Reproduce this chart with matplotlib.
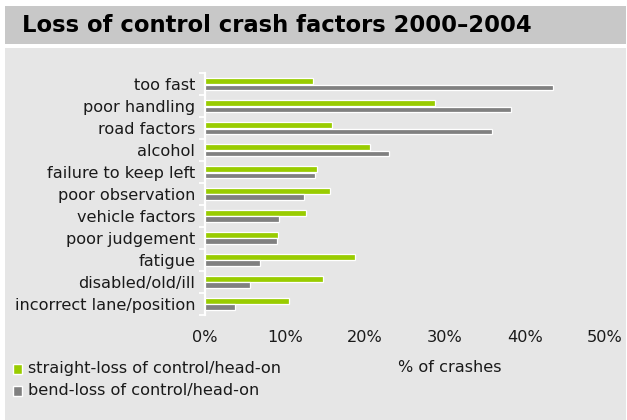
import matplotlib
matplotlib.use("Agg")
import matplotlib.pyplot as plt
from matplotlib.patches import Rectangle
import numpy as np

categories = ["too fast", "poor handling", "road factors", "alcohol",
              "failure to keep left", "poor observation", "vehicle factors",
              "poor judgement", "fatigue", "disabled/old/ill",
              "incorrect lane/position"]
straight = [13.5, 28.8, 15.9, 20.6, 14.0, 15.6, 12.6, 9.1, 18.7, 14.8, 10.5]
bend = [43.5, 38.3, 35.9, 23.0, 13.7, 12.4, 9.2, 9.0, 6.9, 5.6, 3.8]
xticks = [0, 10, 20, 30, 40, 50]
xticklabels = ["0%", "10%", "20%", "30%", "40%", "50%"]
series_names = ["straight-loss of control/head-on", "bend-loss of control/head-on"]
title = "Loss of control crash factors 2000\u20132004"
xlabel = "% of crashes"

GREEN = "#99cc00"
GRAY = "#808080"
PANEL = "#e6e6e6"
BAND = "#c8c8c8"
TXT = "#1a1a1a"
FS = 11.6

plt.rcParams['font.family'] = ['DejaVu Sans']
W, H = 627, 420
fig = plt.figure(figsize=(W / 100, H / 100), dpi=100)
fig.patch.set_facecolor("white")

def px_rect(x0, y0, x1, y1, color):
    fig.patches.append(Rectangle((x0 / W, 1 - y1 / H), (x1 - x0) / W, (y1 - y0) / H,
                                 transform=fig.transFigure, facecolor=color,
                                 edgecolor="none", zorder=-10))

px_rect(5, 6, 626, 44, BAND)
px_rect(5, 48, 626, 420, PANEL)
fig.text(22 / W, 1 - 25 / H, title, fontsize=16.3, fontweight="bold",
         va="center", ha="left", color="black")

left, right, top, bottom = 205, 605, 73.3, 315
ax = fig.add_axes([left / W, 1 - bottom / H, (right - left) / W, (bottom - top) / H])
ax.set_facecolor("none")

y = np.arange(len(categories))
off = 0.14
hgt = 0.25
ax.barh(y - off, straight, height=hgt, color=GREEN, edgecolor="white", linewidth=0.9, zorder=3)
ax.barh(y + off, bend, height=hgt, color=GRAY, edgecolor="white", linewidth=0.9, zorder=3)

ax.set_xlim(0, 50)
ax.set_ylim(len(categories) - 0.5, -0.5)

ax.set_xticks(xticks)
ax.set_xticklabels(xticklabels, fontsize=FS, color=TXT)
ax.tick_params(axis="x", length=0, pad=11)

ax.set_yticks(np.arange(-0.5, len(categories), 1.0))
ax.set_yticklabels([])
ax.set_yticks(y, minor=True)
ax.set_yticklabels(categories, minor=True, fontsize=FS, color=TXT)
ax.tick_params(axis="y", which="major", length=4.5, width=1.3, color="white", direction="out")
ax.tick_params(axis="y", which="minor", length=0, pad=7)

for s in ["top", "right", "bottom"]:
    ax.spines[s].set_visible(False)
ax.spines["left"].set_color("white")
ax.spines["left"].set_linewidth(1.6)

fig.text(450 / W, 1 - 367 / H, xlabel, fontsize=FS, ha="center", va="center", color=TXT)

for i, (name, col) in enumerate(zip(series_names, [GREEN, GRAY])):
    yc = 369 + 22 * i
    fig.patches.append(Rectangle((13 / W, 1 - (yc + 5) / H), 9 / W, 10 / H,
                                 transform=fig.transFigure, facecolor=col,
                                 edgecolor="white", linewidth=1.0, zorder=5))
    fig.text(28 / W, 1 - yc / H, name, fontsize=FS, ha="left", va="center", color=TXT)

fig.savefig("out.png", dpi=100, facecolor=fig.get_facecolor())
